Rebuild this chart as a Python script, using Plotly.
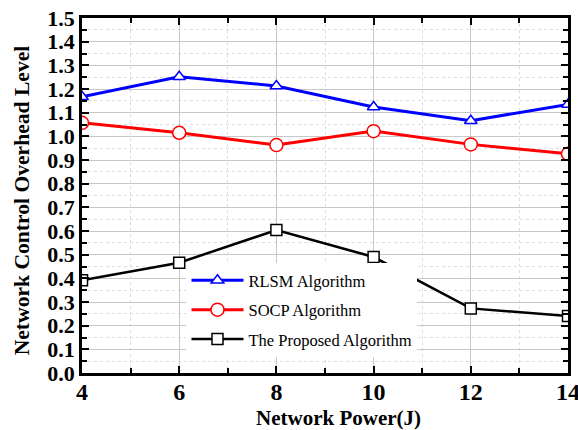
import plotly.graph_objects as go

power = [4, 6, 8, 10, 12, 14]
rlsm = [1.167, 1.252, 1.213, 1.124, 1.066, 1.135]
socp = [1.057, 1.015, 0.963, 1.022, 0.966, 0.926]
proposed = [0.392, 0.466, 0.604, 0.490, 0.273, 0.241]

fig = go.Figure()
fig.add_trace(go.Scatter(x=power, y=rlsm, name="RLSM Algorithm", mode="lines+markers",
                         line=dict(color="#0000ff", width=3), legendgroup="a",
                         marker=dict(symbol="triangle-up", size=11, color="white",
                                     line=dict(color="#0000ff", width=1.5))))
fig.add_trace(go.Scatter(x=power, y=socp, name="SOCP Algorithm", mode="lines+markers",
                         line=dict(color="#ff0000", width=3), legendgroup="b",
                         marker=dict(symbol="circle", size=13, color="white",
                                     line=dict(color="#ff0000", width=1.5))))
fig.add_trace(go.Scatter(x=power, y=proposed, name="The Proposed Algorithm", mode="lines+markers",
                         line=dict(color="black", width=2.5), legendgroup="c",
                         marker=dict(symbol="square", size=11, color="white",
                                     line=dict(color="black", width=1.5))))

font_family = "Liberation Serif, Times New Roman, serif"
# figure is a bit wider than the window so the last x tick label ("14") is kept and
# clipped by the window edge, as in the reference
fig.update_layout(
    width=600, height=430,
    margin=dict(l=82, r=32, t=18, b=57),
    plot_bgcolor="white", paper_bgcolor="white",
    font=dict(family=font_family, color="black"),
    showlegend=True,
    legend=dict(x=0.215, y=0.31, xanchor="left", yanchor="top",
                bgcolor="white", borderwidth=0, tracegroupgap=5,
                font=dict(family=font_family, size=16.5, color="black"),
                itemwidth=52),
    xaxis=dict(range=[4, 14], tickvals=[4, 6, 8, 10, 12, 14], ticks="inside",
               automargin=False, ticklabelstandoff=-5,
               ticklen=7, tickwidth=2, tickcolor="black",
               showline=True, linecolor="black", linewidth=2.5, mirror="ticks",
               showgrid=True, gridcolor="#c8c8c8", gridwidth=1, zeroline=False,
               tickfont=dict(family=font_family, size=24, color="black", weight="bold"),
               minor=dict(dtick=1, ticks="inside", ticklen=5, tickcolor="black", tickwidth=2,
                          showgrid=True, gridcolor="#dddddd", griddash="dot", gridwidth=1)),
    yaxis=dict(range=[0, 1.5], dtick=0.1, tickformat=".1f", ticks="inside",
               automargin=False,
               ticklen=7, tickwidth=2, tickcolor="black",
               showline=True, linecolor="black", linewidth=2.5, mirror="ticks",
               showgrid=True, gridcolor="#c8c8c8", gridwidth=1, zeroline=False,
               tickfont=dict(family=font_family, size=22, color="black", weight="bold"),
               minor=dict(dtick=0.05, ticks="inside", ticklen=5, tickcolor="black", tickwidth=2,
                          showgrid=True, gridcolor="#dddddd", griddash="dot", gridwidth=1)),
    annotations=[
        dict(text="<b>Network Power(J)</b>", xref="paper", yref="paper",
             x=0.527, y=-0.127, xanchor="center", yanchor="middle", showarrow=False,
             font=dict(family=font_family, size=21, color="black")),
        dict(text="<b>Network Control Overhead Level</b>", xref="paper", yref="paper",
             x=-0.123, y=0.487, xanchor="center", yanchor="middle", textangle=-90,
             showarrow=False, font=dict(family=font_family, size=21.6, color="black")),
    ],
)

post = "document.body.style.margin='0';document.body.style.overflow='hidden';"
fig.write_html("out.html", post_script=post, config={"displayModeBar": False})
